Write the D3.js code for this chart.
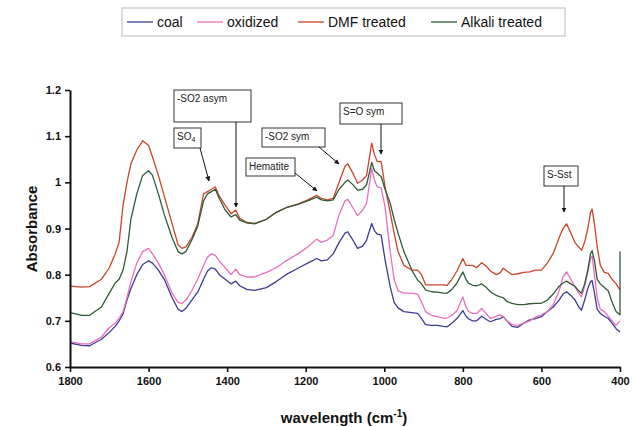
<!DOCTYPE html>
<html><head><meta charset="utf-8">
<script src="https://cdn.jsdelivr.net/npm/d3@7"></script>
<style>body{margin:0;background:#fff}svg{display:block;font-family:"Liberation Sans",Arial,sans-serif}</style>
</head><body><svg id="c" width="632" height="427"></svg>
<script>
const wavenumbers = [
 1800,1770,1750,1720,1700,1685,1675,1665,1655,1645,
 1630,1615,1600,1590,1575,1560,1540,1525,1515,1505,
 1490,1475,1460,1450,1440,1430,1420,1405,1390,1378,
 1368,1350,1330,1300,1275,1250,1220,1195,1172,1160,
 1145,1130,1115,1100,1093,1080,1068,1055,1045,1032,
 1025,1018,1008,998,985,975,965,950,930,915,
 905,895,880,865,850,840,828,815,800,792,
 785,775,765,752,740,730,715,705,697,688,
 675,660,645,630,615,600,585,570,555,545,
 536,525,515,505,498,490,482,475,471,465,
 458,450,440,430,420,410,400,400];
const coal = [
 .652,.647,.646,.66,.675,.688,.70,.715,.745,.77,
 .80,.822,.83,.825,.81,.79,.75,.725,.72,.727,
 .745,.762,.79,.808,.815,.812,.80,.79,.78,.786,
 .776,.768,.766,.772,.785,.80,.814,.825,.835,.83,
 .832,.845,.87,.89,.893,.875,.857,.862,.875,.911,
 .895,.888,.886,.832,.774,.74,.728,.72,.718,.716,
 .705,.692,.69,.69,.688,.687,.695,.705,.722,.71,
 .704,.70,.70,.71,.703,.698,.703,.705,.709,.70,
 .688,.686,.695,.702,.705,.709,.72,.73,.745,.758,
 .763,.755,.746,.73,.723,.745,.77,.785,.787,.76,
 .725,.716,.71,.705,.695,.683,.676,.676];
const oxidized = [
 .655,.65,.65,.665,.685,.695,.705,.72,.75,.785,
 .825,.85,.857,.845,.825,.80,.76,.74,.738,.745,
 .765,.79,.82,.838,.845,.842,.83,.815,.80,.812,
 .80,.795,.795,.805,.815,.83,.845,.86,.877,.87,
 .875,.885,.93,.96,.963,.945,.928,.94,.955,1.03,
 1.005,.99,.988,.947,.85,.79,.765,.76,.76,.758,
 .74,.72,.712,.709,.706,.706,.712,.722,.752,.73,
 .72,.716,.716,.727,.715,.705,.71,.713,.709,.70,
 .692,.69,.695,.70,.708,.713,.72,.735,.765,.795,
 .806,.79,.774,.76,.752,.775,.805,.835,.84,.80,
 .75,.725,.72,.71,.70,.69,.70,.70];
const dmfTreated = [
 .775,.773,.774,.79,.815,.845,.87,.95,1.0,1.04,
 1.07,1.09,1.08,1.055,1.015,.97,.91,.865,.857,.86,
 .88,.91,.975,.98,.985,.99,.97,.95,.932,.94,
 .922,.913,.911,.92,.935,.945,.953,.962,.972,.965,
 .962,.965,1.0,1.035,1.04,1.02,.998,1.005,1.015,1.085,
 1.06,1.045,1.045,.99,.935,.89,.85,.82,.81,.81,
 .80,.778,.778,.778,.778,.777,.79,.808,.835,.82,
 .82,.82,.815,.826,.818,.808,.80,.804,.814,.808,
 .80,.802,.805,.806,.81,.81,.825,.846,.88,.90,
 .91,.89,.87,.86,.853,.87,.90,.935,.942,.91,
 .86,.82,.805,.803,.79,.78,.767,.767];
const alkaliTreated = [
 .718,.712,.712,.73,.76,.782,.79,.81,.85,.92,
 .975,1.015,1.025,1.015,.975,.93,.88,.85,.845,.85,
 .875,.905,.96,.975,.98,.985,.965,.94,.925,.93,
 .918,.912,.91,.92,.935,.945,.952,.96,.968,.962,
 .96,.962,.985,1.0,1.005,.995,.983,.985,.995,1.043,
 1.025,1.02,1.012,.985,.955,.92,.89,.85,.81,.788,
 .78,.767,.763,.762,.76,.76,.768,.782,.806,.79,
 .781,.777,.776,.78,.772,.763,.755,.752,.75,.742,
 .738,.735,.735,.737,.738,.738,.745,.758,.775,.782,
 .786,.78,.775,.765,.76,.78,.81,.845,.852,.83,
 .79,.78,.772,.765,.74,.72,.713,.85];
const seriesNames = ["coal","oxidized","DMF treated","Alkali treated"];
const seriesColors = ["#3b3b96","#ea6fbd","#c8452a","#2f5a36"];
const xTicks = [1800,1600,1400,1200,1000,800,600,400];
const yTicks = [0.6,0.7,0.8,0.9,1.0,1.1,1.2];
const annotations = [
 {lines:["-SO2 asym"], box:[174,90,77,32], from:[236,122], to:[236,207]},
 {lines:["SO4"], box:[174,128,27,20], from:[200,148], to:[209,181], sub:true},
 {lines:["-SO2 sym"], box:[262,128,63,19], from:[319,147], to:[339,164]},
 {lines:["Hematite"], box:[246,158,49,18], from:[295,173], to:[317,191]},
 {lines:["S=O sym"], box:[340,103,62,21], from:[381,124], to:[381,154]},
 {lines:["S-Sst"], box:[544,166,34,20], from:[564,186], to:[564,212]}
];

const svg = d3.select("#c");
const x = d3.scaleLinear().domain([1800,400]).range([70,620]);
const y = d3.scaleLinear().domain([0.6,1.2]).range([367,90]);

svg.append("defs").append("marker").attr("id","arr").attr("viewBox","0 0 10 10")
 .attr("refX",9).attr("refY",5).attr("markerWidth",5).attr("markerHeight",5).attr("orient","auto")
 .append("path").attr("d","M0,0L10,5L0,10z").attr("fill","#111");

const data = [coal, oxidized, dmfTreated, alkaliTreated];
const line = d3.line().x((d,i)=>x(wavenumbers[i])).y(d=>y(d));
data.forEach((s,k)=>{
  svg.append("path").datum(s).attr("d",line).attr("fill","none")
   .attr("stroke",seriesColors[k]).attr("stroke-width",1.3).attr("stroke-linejoin","round");
});

const ya = svg.append("g").attr("transform","translate(70,0)")
 .call(d3.axisLeft(y).tickValues(yTicks).tickSize(5).tickSizeOuter(0).tickPadding(4)
 .tickFormat(d=> d===1 ? "1" : d3.format(".1f")(d)));
const xa = svg.append("g").attr("transform","translate(0,367)")
 .call(d3.axisBottom(x).tickValues(xTicks).tickSize(5).tickSizeOuter(0).tickPadding(5).tickFormat(d3.format("d")));
[ya,xa].forEach(a=>{
  a.select(".domain").attr("stroke","#111").attr("stroke-width",2);
  a.selectAll(".tick line").attr("stroke","#111").attr("stroke-width",1.6);
  a.selectAll("text").attr("font-size",11).attr("font-weight","bold").attr("fill","#111")
   .attr("font-family","'Liberation Sans',Arial,sans-serif");
});

svg.append("text").attr("transform","translate(37,229) rotate(-90)").attr("text-anchor","middle")
 .attr("font-size",15).attr("font-weight","bold").attr("fill","#111").text("Absorbance");
const xl = svg.append("text").attr("x",344).attr("y",423).attr("text-anchor","middle")
 .attr("font-size",15).attr("font-weight","bold").attr("fill","#111");
xl.append("tspan").text("wavelength (cm");
xl.append("tspan").attr("font-size",10).attr("dy",-6).text("-1");
xl.append("tspan").attr("dy",6).text(")");

// legend
const lg = svg.append("g");
lg.append("rect").attr("x",122).attr("y",8).attr("width",443).attr("height",28)
 .attr("fill","#fff").attr("stroke","#bbb").attr("stroke-width",1);
const lgX = [127,197,298,431];
seriesNames.forEach((n,k)=>{
  lg.append("line").attr("x1",lgX[k]).attr("x2",lgX[k]+26).attr("y1",22).attr("y2",22)
   .attr("stroke",seriesColors[k]).attr("stroke-width",1.3);
  lg.append("text").attr("x",lgX[k]+30).attr("y",27).attr("font-size",14).attr("fill","#111").text(n);
});

// annotations
annotations.forEach(a=>{
  svg.append("rect").attr("x",a.box[0]).attr("y",a.box[1]).attr("width",a.box[2]).attr("height",a.box[3])
   .attr("fill","#fff").attr("stroke","#333").attr("stroke-width",1);
  const t = svg.append("text").attr("x",a.box[0]+3).attr("y",a.box[1]+12).attr("font-size",10).attr("fill","#222");
  if(a.sub){ t.append("tspan").text("SO"); t.append("tspan").attr("font-size",7).attr("dy",2).text("4"); }
  else t.text(a.lines[0]);
  svg.append("line").attr("x1",a.from[0]).attr("y1",a.from[1]).attr("x2",a.to[0]).attr("y2",a.to[1])
   .attr("stroke","#111").attr("stroke-width",1).attr("marker-end","url(#arr)");
});
</script></body></html>
